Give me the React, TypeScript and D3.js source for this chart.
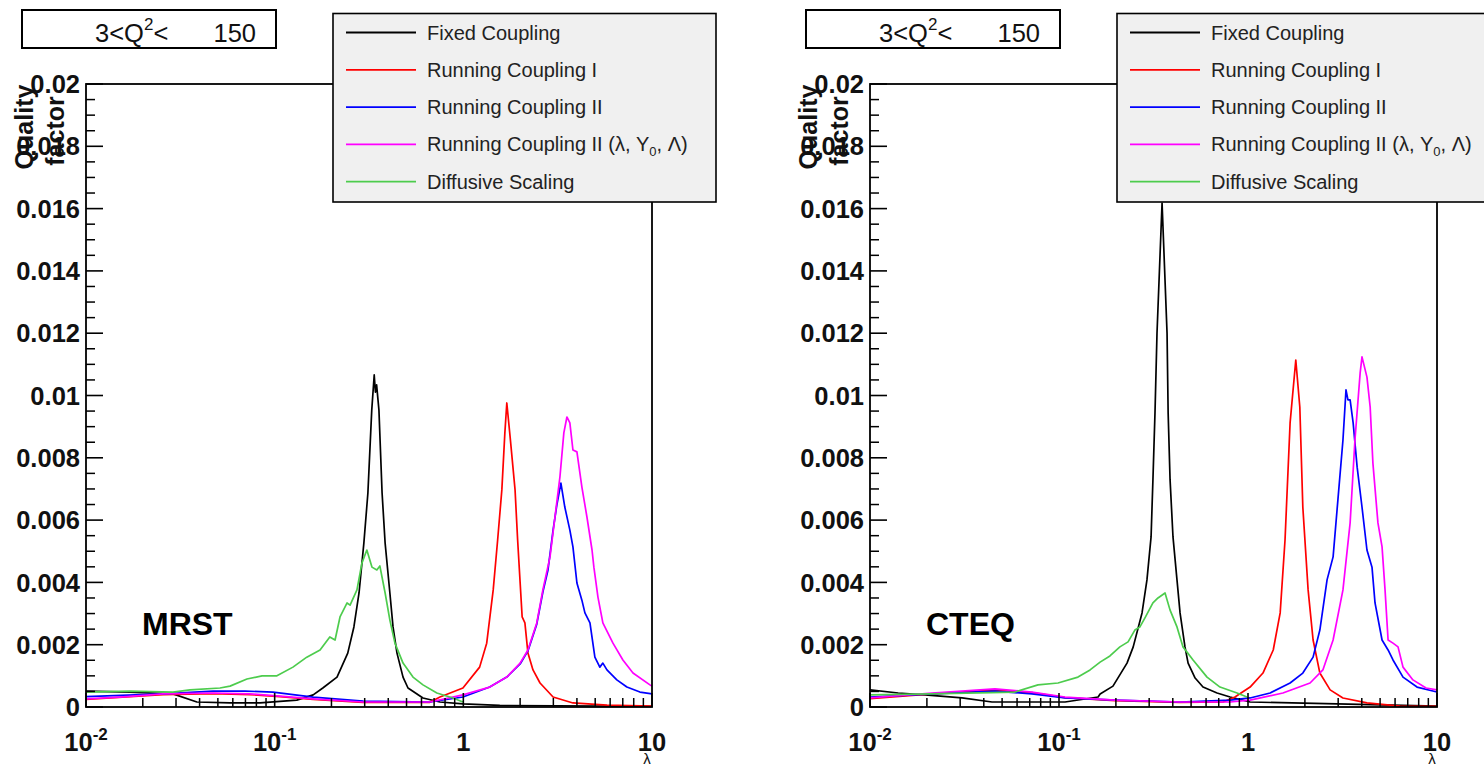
import React, { useEffect } from "react";
import * as d3 from "d3";

type Pt = [number, number];

// ---------- axis / labels ----------
const yTicks = [0, 0.002, 0.004, 0.006, 0.008, 0.01, 0.012, 0.014, 0.016, 0.018, 0.02];
const xDecades = [0.01, 0.1, 1, 10];
const xDecadeBase = ["10", "10", "1", "10"];
const xDecadeExp = ["-2", "-1", "", ""];
const panelLabels = ["MRST", "CTEQ"];
const q2Low = "3";
const q2High = "150";
const yTitleLines = ["Quality", "factor"];
const xTitle = "λ";
const seriesNames = [
  "Fixed Coupling",
  "Running Coupling I",
  "Running Coupling II",
  "Running Coupling II (λ, Y0, Λ)",
  "Diffusive Scaling",
];
const seriesColors = ["#000000", "#ff0000", "#0000ff", "#ff00ff", "#4dcc4d"];

// ---------- MRST (λ, quality factor) ----------
const mrstFixed: Pt[] = [
  [0.01, 0.00051], [0.0171, 0.00048], [0.0289, 0.00042], [0.0387, 0.00016], [0.058, 0.00013],
  [0.0836, 0.00013], [0.131, 0.00022], [0.16, 0.00039], [0.18, 0.00061], [0.214, 0.00096],
  [0.244, 0.00173], [0.263, 0.00257], [0.28, 0.00366], [0.297, 0.00526], [0.312, 0.00687],
  [0.327, 0.00953], [0.337, 0.01066], [0.342, 0.01011], [0.347, 0.01034], [0.357, 0.00953],
  [0.371, 0.00687], [0.385, 0.00526], [0.408, 0.00366], [0.424, 0.00257], [0.445, 0.00173],
  [0.479, 0.00096], [0.509, 0.00061], [0.611, 0.00029], [0.752, 0.00016], [0.995, 0.0001],
  [1.56, 0.00005], [10, 0.00002],
];
const mrstRunning1: Pt[] = [
  [0.01, 0.00024], [0.0256, 0.0004], [0.0471, 0.00043], [0.074, 0.0004], [0.1067, 0.00033],
  [0.16, 0.00024], [0.294, 0.00015], [0.665, 0.00015], [0.752, 0.00032], [0.995, 0.00061],
  [1.22, 0.00128], [1.33, 0.00205], [1.44, 0.00376], [1.52, 0.00536], [1.6, 0.00697],
  [1.66, 0.0088], [1.7, 0.00976], [1.77, 0.00867], [1.88, 0.00697], [1.94, 0.00536],
  [2.05, 0.00289], [2.12, 0.0027], [2.2, 0.00173], [2.34, 0.00119], [2.55, 0.00077],
  [2.99, 0.00032], [3.81, 0.00013], [5.77, 0.00006], [10, 0.00003],
];
const mrstRunning2: Pt[] = [
  [0.01, 0.00033], [0.0256, 0.00042], [0.0471, 0.00051], [0.0696, 0.00051], [0.098, 0.00048],
  [0.16, 0.00032], [0.294, 0.00019], [0.665, 0.00016], [0.995, 0.00032], [1.38, 0.00064],
  [1.7, 0.00096], [2.0, 0.00138], [2.2, 0.0018], [2.45, 0.00266], [2.64, 0.00369],
  [2.81, 0.0044], [2.99, 0.00568], [3.13, 0.00648], [3.29, 0.00719], [3.45, 0.00642],
  [3.67, 0.00568], [3.81, 0.00514], [4.0, 0.00398], [4.25, 0.00343], [4.41, 0.00302],
  [4.69, 0.0027], [4.98, 0.0016], [5.29, 0.00128], [5.49, 0.00141], [5.77, 0.00119],
  [6.51, 0.00087], [7.36, 0.00064], [8.63, 0.00048], [10, 0.00042],
];
const mrstRunning2Fit: Pt[] = [
  [0.01, 0.00026], [0.0151, 0.00032], [0.0256, 0.00042], [0.0471, 0.00045], [0.074, 0.00042],
  [0.1067, 0.00035], [0.16, 0.00026], [0.294, 0.00016], [0.665, 0.00016], [0.995, 0.00039],
  [1.38, 0.00064], [1.7, 0.00096], [2.0, 0.00141], [2.2, 0.00183], [2.45, 0.0027],
  [2.64, 0.00376], [2.88, 0.00482], [3.06, 0.0061], [3.25, 0.00738], [3.41, 0.0088],
  [3.54, 0.00931], [3.67, 0.00912], [3.81, 0.00825], [4.0, 0.00819], [4.25, 0.00706],
  [4.52, 0.0061], [4.81, 0.00504], [4.92, 0.00449], [5.17, 0.00353], [5.49, 0.0027],
  [6.21, 0.00205], [7.01, 0.00151], [7.93, 0.00109], [9.75, 0.00071], [10, 0.00067],
];
const mrstDiffusive: Pt[] = [
  [0.01, 0.00048], [0.0171, 0.00051], [0.0289, 0.00048], [0.0356, 0.00055], [0.0513, 0.00061],
  [0.058, 0.00067], [0.0713, 0.0009], [0.0857, 0.001], [0.1028, 0.001], [0.125, 0.00128],
  [0.148, 0.0016], [0.174, 0.00183], [0.196, 0.00225], [0.209, 0.00215], [0.222, 0.00289],
  [0.242, 0.00334], [0.251, 0.00327], [0.273, 0.00376], [0.29, 0.00462], [0.308, 0.00504],
  [0.328, 0.00449], [0.348, 0.0044], [0.361, 0.00453], [0.385, 0.00366], [0.408, 0.00279],
  [0.434, 0.00205], [0.479, 0.00141], [0.541, 0.00096], [0.611, 0.00071], [0.724, 0.00045],
  [0.881, 0.00029], [0.995, 0.00016],
];

// ---------- CTEQ (λ, quality factor) ----------
const cteqFixed: Pt[] = [
  [0.01, 0.00055], [0.0141, 0.00045], [0.0195, 0.00039], [0.0307, 0.00029], [0.0442, 0.00016],
  [0.1076, 0.00016], [0.161, 0.00032], [0.165, 0.00042], [0.193, 0.00067], [0.229, 0.00141],
  [0.247, 0.00193], [0.275, 0.00302], [0.292, 0.00408], [0.307, 0.00546], [0.314, 0.00729],
  [0.322, 0.00944], [0.33, 0.012], [0.351, 0.01618], [0.373, 0.012], [0.378, 0.00944],
  [0.387, 0.00729], [0.401, 0.00546], [0.421, 0.00408], [0.437, 0.00302], [0.464, 0.00193],
  [0.482, 0.00141], [0.525, 0.00093], [0.578, 0.00064], [0.686, 0.00045], [0.804, 0.00032],
  [1.026, 0.00016], [10, 0.00003],
];
const cteqRunning1: Pt[] = [
  [0.01, 0.00027], [0.0213, 0.00042], [0.0458, 0.00054], [0.0719, 0.00046], [0.1076, 0.0003],
  [0.198, 0.0002], [0.437, 0.00015], [0.738, 0.00016], [0.853, 0.00032], [1.026, 0.00064],
  [1.2, 0.00109], [1.36, 0.00183], [1.48, 0.00302], [1.57, 0.00536], [1.67, 0.00912],
  [1.79, 0.01114], [1.88, 0.00963], [1.95, 0.00642], [2.08, 0.00376], [2.21, 0.00215],
  [2.4, 0.00109], [2.72, 0.00055], [3.18, 0.00029], [4.26, 0.00013], [6.37, 0.00003],
  [10, 0.00002],
];
const cteqRunning2: Pt[] = [
  [0.01, 0.00032], [0.0213, 0.00042], [0.0458, 0.00051], [0.0719, 0.00042], [0.1076, 0.00029],
  [0.198, 0.00022], [0.437, 0.00016], [0.804, 0.00022], [1.026, 0.00029], [1.31, 0.00045],
  [1.67, 0.00077], [1.95, 0.00109], [2.21, 0.0016], [2.4, 0.00247], [2.62, 0.00408],
  [2.82, 0.00482], [2.99, 0.00665], [3.18, 0.00857], [3.3, 0.01018], [3.38, 0.00986],
  [3.47, 0.00986], [3.6, 0.00912], [3.78, 0.0077], [4.01, 0.00642], [4.26, 0.00504],
  [4.53, 0.00449], [4.7, 0.00334], [5.12, 0.00215], [5.51, 0.00183], [5.85, 0.00151],
  [6.61, 0.00096], [7.84, 0.00064], [10, 0.00048],
];
const cteqRunning2Fit: Pt[] = [
  [0.01, 0.00029], [0.0213, 0.00045], [0.0458, 0.00058], [0.0719, 0.00048], [0.1076, 0.00032],
  [0.198, 0.00022], [0.437, 0.00016], [0.804, 0.00016], [1.026, 0.00022], [1.53, 0.00045],
  [2.13, 0.00077], [2.49, 0.00119], [2.82, 0.00215], [3.18, 0.00376], [3.47, 0.00591],
  [3.68, 0.00857], [3.92, 0.01072], [4.01, 0.01124], [4.26, 0.01059], [4.43, 0.00963],
  [4.58, 0.00783], [4.87, 0.00591], [5.12, 0.00514], [5.31, 0.00376], [5.51, 0.00215],
  [5.85, 0.00205], [6.22, 0.00193], [6.61, 0.00128], [7.46, 0.00087], [8.75, 0.00061],
  [10, 0.00055],
];
const cteqDiffusive: Pt[] = [
  [0.01, 0.00039], [0.0208, 0.00042], [0.0585, 0.00048], [0.0774, 0.00071], [0.0988, 0.00077],
  [0.126, 0.00096], [0.146, 0.00119], [0.165, 0.00144], [0.186, 0.00164], [0.21, 0.00193],
  [0.232, 0.00209], [0.252, 0.00247], [0.268, 0.00257], [0.285, 0.00286], [0.314, 0.00334],
  [0.334, 0.0035], [0.364, 0.00366], [0.387, 0.00311], [0.421, 0.00257], [0.453, 0.00193],
  [0.512, 0.00151], [0.607, 0.00096], [0.711, 0.00064], [0.875, 0.00045], [0.988, 0.00032],
];

const panelSeries: Pt[][][] = [
  [mrstFixed, mrstRunning1, mrstRunning2, mrstRunning2Fit, mrstDiffusive],
  [cteqFixed, cteqRunning1, cteqRunning2, cteqRunning2Fit, cteqDiffusive],
];

const FONT = "'Liberation Sans', Arial, Helvetica, sans-serif";
const LEG_FS = 20;

function LegendLabel({ text, x, y }: { text: string; x: number; y: number }) {
  if (text.includes("Y0")) {
    const [a, b] = text.split("Y0");
    return (
      <text x={x} y={y} fontSize={LEG_FS} fill="#222" fontFamily={FONT}>
        {a}Y
        <tspan fontSize={13} dy={5}>0</tspan>
        <tspan dy={-5}>{b}</tspan>
      </text>
    );
  }
  return (
    <text x={x} y={y} fontSize={LEG_FS} fill="#222" fontFamily={FONT}>
      {text}
    </text>
  );
}

function Panel({ idx }: { idx: number }) {
  const x0 = idx === 0 ? 86 : 870;
  const x1 = idx === 0 ? 652 : 1437;
  const yTop = 84;
  const yBot = 707;
  const x = d3.scaleLog().domain([0.01, 10]).range([x0, x1]);
  const y = d3.scaleLinear().domain([0, 0.02]).range([yBot, yTop]);
  const line = d3
    .line<Pt>()
    .x((d) => x(d[0]))
    .y((d) => y(d[1]));

  const yMinor = d3.range(0, 41).filter((k) => k % 4 !== 0).map((k) => k * 0.0005);
  const xMinor: number[] = [];
  [0.01, 0.1, 1].forEach((dec) => {
    for (let k = 2; k <= 9; k++) xMinor.push(dec * k);
  });

  const lx = x0 + 247;
  const ly = 13.5;
  const lw = 383;
  const lh = 188.5;

  return (
    <g>
      {/* title box */}
      <rect x={x0 - 64} y={10} width={254} height={38} fill="#fff" stroke="#000" strokeWidth={2} />
      <text x={x0 + 9} y={42} fontSize={25.5} fontFamily={FONT} fill="#111">
        {q2Low}&lt;Q
        <tspan fontSize={17} dy={-12}>2</tspan>
        <tspan dy={12}>&lt;</tspan>
      </text>
      <text x={x0 + 170} y={42} fontSize={25.5} fontFamily={FONT} fill="#111" textAnchor="end">
        {q2High}
      </text>

      {/* curves */}
      <g clipPath={`url(#clip${idx})`}>
        {panelSeries[idx].map((s, i) => (
          <path
            key={i}
            d={line(s) || ""}
            fill="none"
            stroke={seriesColors[i]}
            strokeWidth={1.7}
            strokeLinejoin="round"
          />
        ))}
      </g>

      {/* frame */}
      <rect x={x0} y={yTop} width={x1 - x0} height={yBot - yTop} fill="none" stroke="#000" strokeWidth={1.8} />

      {/* y ticks */}
      {yTicks.map((v) => (
        <g key={"yt" + v}>
          <line x1={x0} x2={x0 + 17} y1={y(v)} y2={y(v)} stroke="#000" strokeWidth={1.6} />
          <text
            x={x0 - 6}
            y={y(v)}
            dy="0.36em"
            textAnchor="end"
            fontSize={25.5}
            fontWeight="bold"
            fontFamily={FONT}
            fill="#111"
          >
            {String(+v.toFixed(3))}
          </text>
        </g>
      ))}
      {yMinor.map((v) => (
        <line key={"ym" + v} x1={x0} x2={x0 + 9} y1={y(v)} y2={y(v)} stroke="#000" strokeWidth={1.5} />
      ))}

      {/* x ticks */}
      {xDecades.map((v, i) => (
        <g key={"xt" + v}>
          <line x1={x(v)} x2={x(v)} y1={yBot} y2={yBot - 14} stroke="#000" strokeWidth={1.6} />
          <text x={x(v)} y={751} textAnchor="middle" fontSize={25.5} fontWeight="bold" fontFamily={FONT} fill="#111">
            {xDecadeBase[i]}
            {xDecadeExp[i] && (
              <tspan fontSize={17} dy={-11}>
                {xDecadeExp[i]}
              </tspan>
            )}
          </text>
        </g>
      ))}
      {xMinor.map((v) => (
        <line key={"xm" + v} x1={x(v)} x2={x(v)} y1={yBot} y2={yBot - 9} stroke="#000" strokeWidth={1.5} />
      ))}
      <text x={x1 - 5} y={764} textAnchor="middle" fontSize={15} fontFamily={FONT} fill="#111">
        {xTitle}
      </text>

      {/* y title */}
      <text
        transform={`translate(${x0 - 62},127) rotate(-90)`}
        textAnchor="middle"
        dy="0.35em"
        fontSize={25}
        fontWeight="bold"
        fontFamily={FONT}
        fill="#111"
      >
        {yTitleLines[0]}
      </text>
      <text
        transform={`translate(${x0 - 31},131) rotate(-90)`}
        textAnchor="middle"
        dy="0.35em"
        fontSize={25}
        fontWeight="bold"
        fontFamily={FONT}
        fill="#111"
      >
        {yTitleLines[1]}
      </text>

      {/* panel label */}
      <text x={x0 + 56} y={635} fontSize={32} fontWeight="bold" fontFamily={FONT} fill="#000">
        {panelLabels[idx]}
      </text>

      {/* legend */}
      <rect x={lx} y={ly} width={lw} height={lh} fill="#f0f0f0" stroke="#000" strokeWidth={1.6} />
      {seriesNames.map((name, i) => {
        const cy = ly + 19 + i * 37.3;
        return (
          <g key={name}>
            <line x1={lx + 13} x2={lx + 83} y1={cy} y2={cy} stroke={seriesColors[i]} strokeWidth={1.8} />
            <LegendLabel text={name} x={lx + 94} y={cy + 7} />
          </g>
        );
      })}
    </g>
  );
}

export default function App() {
  useEffect(() => {
    document.body.style.margin = "0";
    document.body.style.overflow = "hidden";
  }, []);
  return (
    <svg
      width={1484}
      height={769}
      style={{ position: "fixed", left: 0, top: 0, background: "#fff", display: "block" }}
    >
      <defs>
        <clipPath id="clip0">
          <rect x={86} y={84} width={566} height={623} />
        </clipPath>
        <clipPath id="clip1">
          <rect x={870} y={84} width={567} height={623} />
        </clipPath>
      </defs>
      <rect x={0} y={0} width={1484} height={769} fill="#fff" />
      <Panel idx={0} />
      <Panel idx={1} />
    </svg>
  );
}
